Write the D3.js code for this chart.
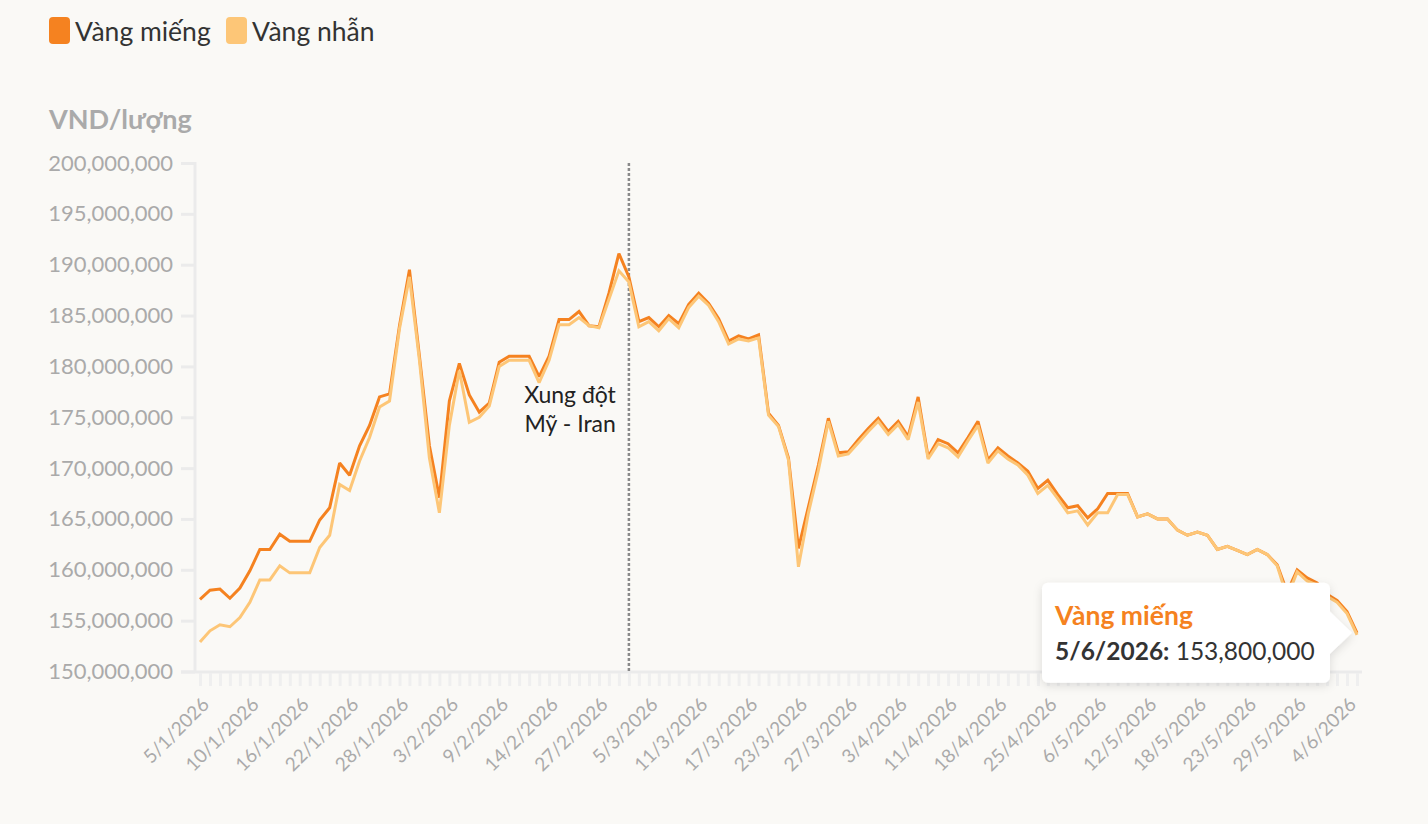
<!DOCTYPE html>
<html><head><meta charset="utf-8">
<script src="https://cdn.jsdelivr.net/npm/d3@7"></script>
<style>
html,body{margin:0;padding:0;background:#faf9f6;}
svg{display:block;font-family:'Lato','Noto Sans',sans-serif;}
</style></head><body>
<svg id="c" width="1428" height="824"></svg>
<script>
const dates = ['5/1/2026','6/1/2026','7/1/2026','8/1/2026','9/1/2026','10/1/2026','12/1/2026','13/1/2026','14/1/2026','15/1/2026',
'16/1/2026','17/1/2026','19/1/2026','20/1/2026','21/1/2026','22/1/2026','23/1/2026','24/1/2026','26/1/2026','27/1/2026',
'28/1/2026','29/1/2026','30/1/2026','31/1/2026','2/2/2026','3/2/2026','4/2/2026','5/2/2026','6/2/2026','7/2/2026',
'9/2/2026','10/2/2026','11/2/2026','12/2/2026','13/2/2026','14/2/2026','23/2/2026','24/2/2026','25/2/2026','26/2/2026',
'27/2/2026','28/2/2026','2/3/2026','3/3/2026','4/3/2026','5/3/2026','6/3/2026','7/3/2026','9/3/2026','10/3/2026',
'11/3/2026','12/3/2026','13/3/2026','14/3/2026','16/3/2026','17/3/2026','18/3/2026','19/3/2026','20/3/2026','21/3/2026',
'23/3/2026','24/3/2026','25/3/2026','26/3/2026','26/3/2026','27/3/2026','30/3/2026','31/3/2026','1/4/2026','2/4/2026',
'3/4/2026','4/4/2026','7/4/2026','8/4/2026','9/4/2026','11/4/2026','13/4/2026','14/4/2026','15/4/2026','16/4/2026',
'18/4/2026','20/4/2026','21/4/2026','22/4/2026','23/4/2026','25/4/2026','27/4/2026','28/4/2026','4/5/2026','5/5/2026',
'6/5/2026','7/5/2026','8/5/2026','9/5/2026','11/5/2026','12/5/2026','13/5/2026','14/5/2026','15/5/2026','16/5/2026',
'18/5/2026','19/5/2026','20/5/2026','21/5/2026','22/5/2026','23/5/2026','25/5/2026','26/5/2026','27/5/2026','28/5/2026',
'29/5/2026','30/5/2026','1/6/2026','2/6/2026','3/6/2026','4/6/2026','5/6/2026'];

// prices in million VND / lượng
const vangMieng = [157.1,158.0,158.1,157.2,158.2,159.9,162.0,162.0,163.5,162.8,
162.8,162.8,164.9,166.1,170.5,169.3,172.2,174.2,177.0,177.3,
184.0,189.5,181.0,172.2,167.1,176.6,180.3,177.2,175.5,176.4,
180.4,181.0,181.0,181.0,179.0,181.0,184.6,184.6,185.4,184.0,
183.9,187.2,191.1,188.8,184.4,184.8,183.9,185.0,184.2,186.1,
187.2,186.2,184.7,182.5,183.0,182.7,183.1,175.4,174.2,171.0,
162.1,166.2,170.3,174.9,171.5,171.6,172.8,173.9,174.9,173.6,
174.6,173.1,177.0,171.1,172.8,172.4,171.5,173.0,174.6,170.8,
172.0,171.2,170.5,169.7,168.0,168.8,167.4,166.1,166.3,165.1,
166.0,167.5,167.5,167.5,165.2,165.5,165.0,165.0,163.9,163.4,
163.7,163.4,162.0,162.3,161.9,161.5,162.0,161.5,160.5,157.8,
160.0,159.2,158.7,157.6,157.0,155.9,153.8];
const vangNhan = [152.9,154.0,154.6,154.4,155.3,156.8,159.0,159.0,160.4,159.7,
159.7,159.7,162.2,163.4,168.4,167.8,170.7,173.0,176.0,176.6,
183.7,188.8,180.6,171.0,165.6,174.2,179.6,174.5,175.0,176.1,
180.0,180.6,180.6,180.6,178.4,180.6,184.1,184.1,184.8,184.0,
183.8,186.6,189.4,188.3,183.9,184.4,183.5,184.7,183.8,185.8,
186.9,186.0,184.4,182.2,182.7,182.5,182.8,175.2,174.1,170.8,
160.3,165.6,169.8,174.6,171.2,171.4,172.5,173.6,174.6,173.3,
174.3,172.8,176.5,170.9,172.4,172.0,171.1,172.7,174.2,170.5,
171.7,170.9,170.3,169.3,167.5,168.3,167.0,165.6,165.8,164.4,
165.6,165.6,167.4,167.4,165.2,165.5,165.0,165.0,163.9,163.4,
163.7,163.4,162.0,162.3,161.9,161.5,162.0,161.5,160.4,157.3,
159.8,158.9,158.5,157.4,156.8,155.7,153.6];

const yTicks = [150,155,160,165,170,175,180,185,190,195,200];
const xTickLabels = ['5/1/2026','10/1/2026','16/1/2026','22/1/2026','28/1/2026','3/2/2026','9/2/2026','14/2/2026',
'27/2/2026','5/3/2026','11/3/2026','17/3/2026','23/3/2026','27/3/2026','3/4/2026','11/4/2026','18/4/2026',
'25/4/2026','6/5/2026','12/5/2026','18/5/2026','23/5/2026','29/5/2026','4/6/2026'];
const seriesNames = ['Vàng miếng','Vàng nhẫn'];
const seriesColors = ['#f58220','#fdc677'];
const unitLabel = 'VND/lượng';
const eventDate = '3/3/2026';
const eventText = ['Xung đột','Mỹ - Iran'];

const svg = d3.select('#c');
const fmt = d3.format(',');
const idx = dates.map((d,i)=>i);
const x = d3.scalePoint().domain(idx).range([200,1357]);
const y = d3.scaleLinear().domain([150,200]).range([671.5,163]);

// legend
const lg = svg.append('g');
seriesNames.forEach((n,k)=>{
  const lx = [49,226][k];
  lg.append('rect').attr('x',lx).attr('y',17).attr('width',21).attr('height',27).attr('rx',4).attr('fill',seriesColors[k]);
  lg.append('text').attr('x',lx+26).attr('y',41).attr('font-size',26.5).attr('fill','#333').text(n);
});

svg.append('text').attr('x',49).attr('y',129).attr('font-size',27).attr('font-weight','bold').attr('fill','#aaaaaa').text(unitLabel);

// axes lines
svg.append('line').attr('x1',195).attr('x2',195).attr('y1',162).attr('y2',673).attr('stroke','#ebebeb').attr('stroke-width',3);
svg.append('line').attr('x1',181).attr('x2',1362).attr('y1',672).attr('y2',672).attr('stroke','#ebebeb').attr('stroke-width',3);

const ya = svg.append('g').attr('transform','translate(195,0)')
  .call(d3.axisLeft(y).tickValues(yTicks).tickSize(14).tickPadding(8).tickFormat(v=>fmt(v*1e6)));
ya.select('.domain').remove();
ya.selectAll('line').attr('stroke','#ebebeb').attr('stroke-width',3);
ya.selectAll('text').attr('font-size',22).attr('fill','#aaaaaa').attr('font-family','Lato');

const xa = svg.append('g').attr('transform','translate(0,673)')
  .call(d3.axisBottom(x).tickValues(idx).tickSize(13).tickFormat(i=>xTickLabels.includes(dates[i])?dates[i]:''));
xa.select('.domain').remove();
xa.selectAll('line').attr('stroke','#efefef').attr('stroke-width',3);
xa.selectAll('text').attr('font-size',19).attr('fill','#aaaaaa').attr('font-family','Lato')
  .attr('text-anchor','end').attr('x',0).attr('y',0).attr('dy','0.35em')
  .attr('transform','translate(5,28) rotate(-45)');

// event line
const ei = dates.indexOf(eventDate);
svg.append('line').attr('x1',x(ei)).attr('x2',x(ei)).attr('y1',163).attr('y2',671)
  .attr('stroke','#8a8a8a').attr('stroke-width',2.5).attr('stroke-dasharray','3,2');
eventText.forEach((t,k)=>{
  svg.append('text').attr('x',x(ei)-13).attr('y',403+k*29).attr('text-anchor','end')
    .attr('font-size',23).attr('fill','#222').text(t);
});

// lines
const line = d3.line().x((d,i)=>x(i)).y(d=>y(d));
[vangMieng, vangNhan].forEach((s,k)=>{
  svg.append('path').datum(s).attr('d',line).attr('fill','none')
    .attr('stroke',seriesColors[k]).attr('stroke-width',3).attr('stroke-linejoin','miter').attr('stroke-miterlimit',2);
});

// tooltip
const defs = svg.append('defs');
const f = defs.append('filter').attr('id','sh').attr('x','-20%').attr('y','-30%').attr('width','140%').attr('height','170%');
f.append('feDropShadow').attr('dx',0).attr('dy',3).attr('stdDeviation',5).attr('flood-color','#000').attr('flood-opacity',0.12);
const li = dates.length-1;
const px = x(li)-5, py = y(vangMieng[li]);
const tg = svg.append('g').attr('filter','url(#sh)');
tg.append('rect').attr('x',px-310).attr('y',py-50).attr('width',288).attr('height',100).attr('rx',6).attr('fill','#fff');
tg.append('path').attr('d',`M${px-23},${py-22}L${px},${py}L${px-23},${py+22}Z`).attr('fill','#fff');
svg.append('text').attr('x',px-297).attr('y',py-8).attr('font-size',26.5).attr('font-weight','bold').attr('fill',seriesColors[0]).text(seriesNames[0]);
const t2 = svg.append('text').attr('x',px-297).attr('y',py+27).attr('font-size',24.5).attr('fill','#333');
t2.append('tspan').attr('font-weight','bold').text(dates[li]+':');
t2.append('tspan').text(' '+fmt(vangMieng[li]*1e6));
</script>
</body></html>
